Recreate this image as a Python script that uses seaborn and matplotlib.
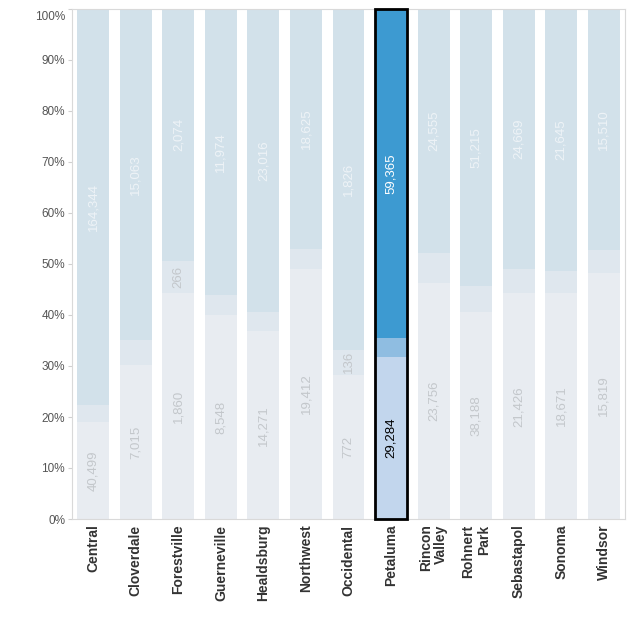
import numpy as np
import pandas as pd
import matplotlib
matplotlib.use("Agg")
import matplotlib.pyplot as plt
from matplotlib.patches import Rectangle
from matplotlib.transforms import ScaledTranslation
import seaborn as sns

# ---- data ----
categories = ["Central", "Cloverdale", "Forestville", "Guerneville", "Healdsburg",
              "Northwest", "Occidental", "Petaluma", "Rincon\nValley", "Rohnert\nPark",
              "Sebastapol", "Sonoma", "Windsor"]
bottom_vals = [40499, 7015, 1860, 8548, 14271, 19412, 772, 29284, 23756, 38188, 21426, 18671, 15819]
middle_vals = [7000, 1150, 266, 860, 1500, 1600, 136, 3400, 3100, 4850, 2350, 1860, 1440]
top_vals = [164344, 15063, 2074, 11974, 23016, 18625, 1826, 59365, 24555, 51215, 24669, 21645, 15510]
highlight = "Petaluma"
y_ticks = [0, 10, 20, 30, 40, 50, 60, 70, 80, 90, 100]

# ---- styling ----
sns.set_style("white")
plt.rcParams["font.family"] = ["Liberation Sans", "DejaVu Sans"]

top_c, mid_c, bot_c = "#d2e1ea", "#dfe7ee", "#e8ecf1"
hl_top, hl_mid, hl_bot = "#3d9ad1", "#8fbde1", "#c2d6ed"

df = pd.DataFrame({"cat": categories, "bottom": bottom_vals,
                   "middle": middle_vals, "top": top_vals})
df["total"] = df["bottom"] + df["middle"] + df["top"]
df["p_bot"] = df["bottom"] / df["total"] * 100
df["p_mid"] = (df["bottom"] + df["middle"]) / df["total"] * 100
df["p_all"] = 100.0

def pal(base, hl):
    return {c: (hl if c == highlight else base) for c in categories}

fig = plt.figure(figsize=(6.34, 6.30), dpi=100)
ax = fig.add_axes([72 / 634, 111 / 630, 553 / 634, 510 / 630])

for col, base, hl in [("p_all", top_c, hl_top), ("p_mid", mid_c, hl_mid), ("p_bot", bot_c, hl_bot)]:
    sns.barplot(data=df, x="cat", y=col, hue="cat", order=categories, hue_order=categories,
                palette=pal(base, hl), legend=False, width=0.75, saturation=1,
                linewidth=0, ax=ax, errorbar=None)

ax.set_xlim(-0.5, len(categories) - 0.5)
ax.set_ylim(0, 100)
ax.set_xlabel("")
ax.set_ylabel("")

# highlight border
hi = categories.index(highlight)
ax.add_patch(Rectangle((hi - 0.375, 0), 0.75, 100, fill=False, edgecolor="black",
                       linewidth=2, zorder=10, clip_on=False))

# value labels
fig.canvas.draw()
renderer = fig.canvas.get_renderer()
for i, row in df.iterrows():
    is_hl = row["cat"] == highlight
    specs = [
        (row["top"], (row["p_mid"] + 100) / 2, 100 - row["p_mid"], "white" if is_hl else "#eef3f7"),
        (row["middle"], (row["p_bot"] + row["p_mid"]) / 2, row["p_mid"] - row["p_bot"], "#c3c7cb"),
        (row["bottom"], row["p_bot"] / 2, row["p_bot"], "black" if is_hl else "#c3c7cb"),
    ]
    for val, yc, seg, color in specs:
        t = ax.text(i, yc, f"{int(val):,}", rotation=90, ha="center", va="center",
                    fontsize=9.5, color=color, zorder=5)
        bb = t.get_window_extent(renderer)
        seg_px = seg / 100 * 510
        if bb.height > seg_px - 2:
            t.remove()

# axes formatting
ax.set_yticks(y_ticks)
ax.set_yticklabels([f"{v}%" for v in y_ticks], fontsize=8.5, color="#555555")
ax.set_xticks(range(len(categories)))
ax.set_xticklabels(categories, rotation=90, fontsize=10, fontweight="bold",
                   color="#333333", ha="center", va="top", multialignment="right",
                   linespacing=1.1)
ax.set_xticks(np.arange(-0.5, len(categories)), minor=True)
ax.tick_params(axis="x", which="major", length=0, pad=4)
ax.tick_params(axis="x", which="minor", length=3, color="#d0d0d0", width=0.8)
ax.tick_params(axis="y", which="major", length=3, color="#d0d0d0", width=0.8, pad=2,
               left=True)
for s in ax.spines.values():
    s.set_color("#d9d9d9")
    s.set_linewidth(0.8)
    s.set_visible(True)

lbl = ax.get_yticklabels()[-1]
lbl.set_transform(lbl.get_transform() + ScaledTranslation(0, -0.07, fig.dpi_scale_trans))

fig.savefig("out.png", dpi=100)
